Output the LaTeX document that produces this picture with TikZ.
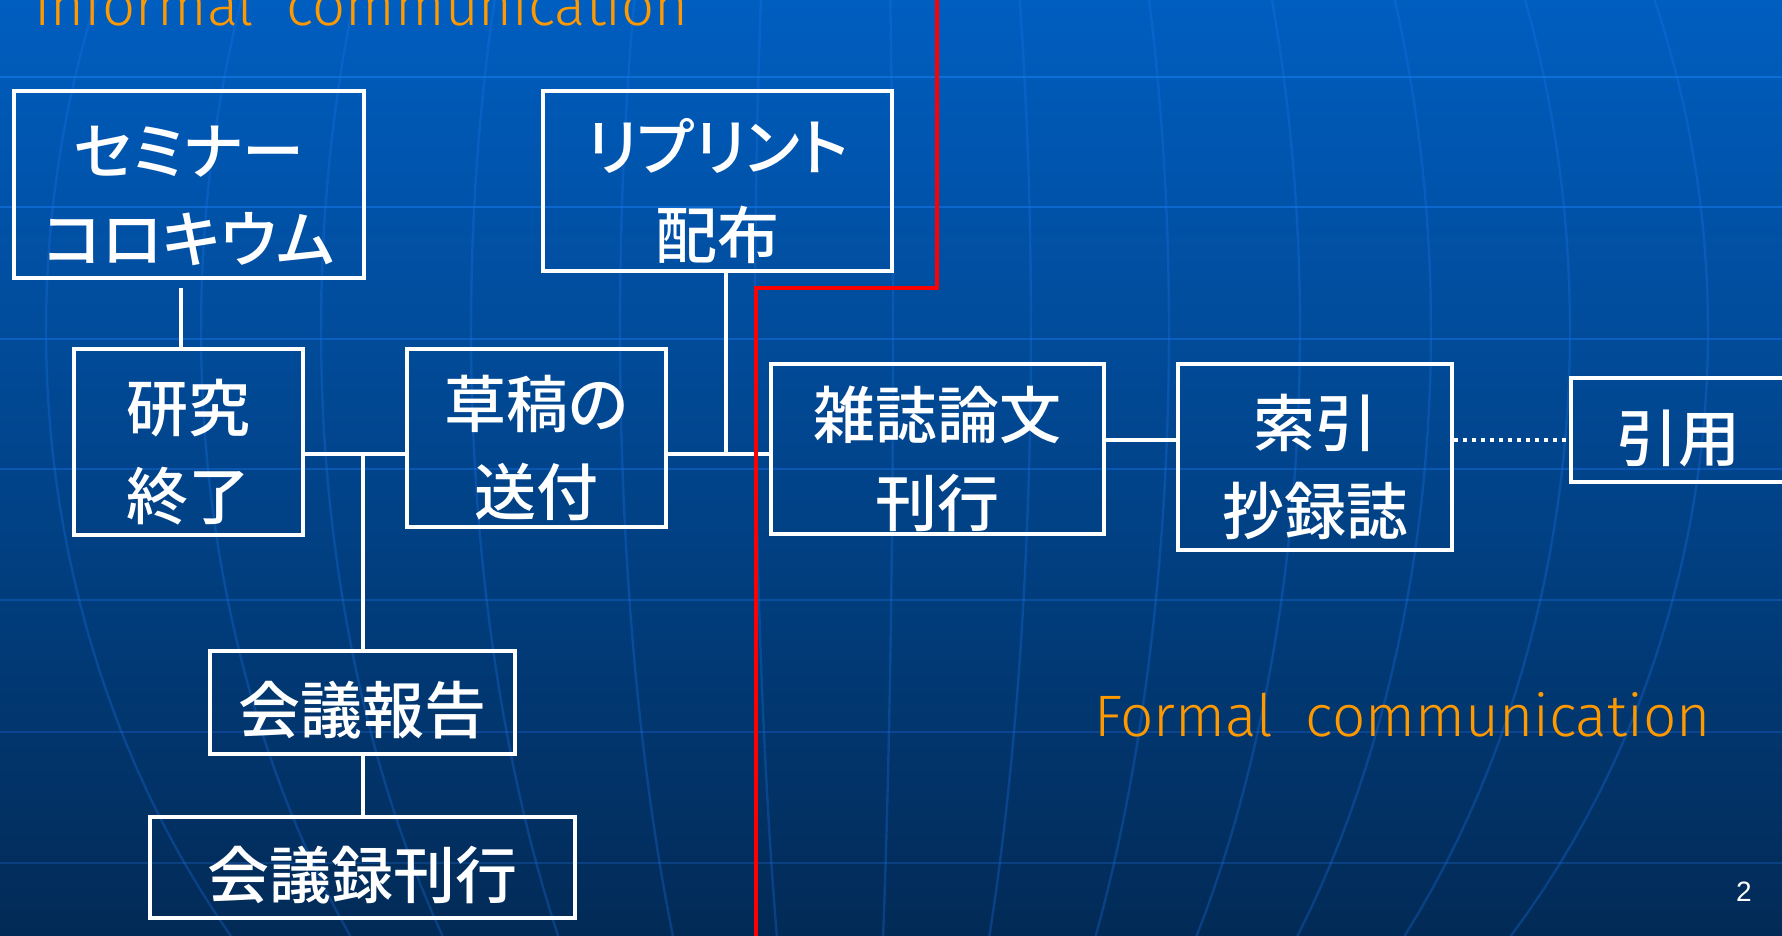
\documentclass[tikz,border=0pt]{standalone}
\usepackage{fontspec}
\newfontfamily\jp[RawFeature=+palt]{Noto Sans CJK JP Medium}
\newfontfamily\lat{Fira Sans Light}
\newfontfamily\numf{Liberation Sans}
\newcommand\onestrut{\rule{0pt}{34pt}}
\newcommand\twostrut{\rule{0pt}{36pt}}
\definecolor{bgtop}{RGB}{0,94,192}
\definecolor{bgmid}{RGB}{0,70,142}
\definecolor{bgbot}{RGB}{2,42,86}
\definecolor{g1}{RGB}{14,110,215}
\definecolor{g2}{RGB}{12,103,206}
\definecolor{g3}{RGB}{10,95,192}
\definecolor{g4}{RGB}{10,86,176}
\definecolor{g5}{RGB}{10,78,158}
\definecolor{g6}{RGB}{10,70,143}
\definecolor{g7}{RGB}{10,63,128}
\definecolor{merc}{RGB}{30,120,240}
\definecolor{orng}{RGB}{255,153,0}
\definecolor{redl}{RGB}{255,0,0}
\begin{document}
\begin{tikzpicture}[x=0.5pt,y=-0.5pt,
  box/.style={draw=white, line width=2pt, inner sep=0pt, align=center, text=white,
    font=\jp\fontsize{31}{44}\selectfont},
  conn/.style={draw=white, line width=1.6pt},
  dotconn/.style={draw=white, line width=2pt, dash pattern=on 2pt off 2.5pt},
  mer/.style={draw=merc, draw opacity=0.28, line width=1.2pt},
  gridl/.style={line width=1.3pt},
  redline/.style={draw=redl, line width=1.8pt},
  ttl/.style={text=orng, inner sep=0pt, anchor=base west}]
\useasboundingbox (0,0) rectangle (1782,936);
% background
\shade[top color=bgtop, middle color=bgmid, bottom color=bgbot] (0,0) rectangle (1782,936);
\foreach \yy/\cc in {77/g1,207/g2,339/g3,469/g4,600/g5,732/g6,863/g7}
  \draw[gridl, draw=\cc] (0,\yy) -- (1782,\yy);
\foreach \d in {-804,-649,-529,-379,-230,-95,43,181,319,450,581,720,858}
  \draw[mer] plot[domain=0:936, samples=40, variable=\t] ({850+(\d)*sqrt(1-((\t-330)/950)^2)}, \t);
% titles
\node[ttl] (inf) at (34,26) {\resizebox{327pt}{!}{\lat Informal\ \ communication}};
\node[ttl] (frm) at (1094,736) {\resizebox{308pt}{!}{\lat Formal\ \ communication}};
\node[text=white, inner sep=0pt, font=\numf\fontsize{14}{16}\selectfont] (pg) at (1744,892) {2};
% boxes
\node[box, minimum width=175pt, minimum height=93.5pt] (seminar) at (189,184.5) {\twostrut セミナー\\コロキウム};
\node[box, minimum width=174.5pt, minimum height=90pt] (reprint) at (717.5,181) {\twostrut リプリント\\配布};
\node[box, minimum width=114.5pt, minimum height=93pt] (kenkyu) at (188.5,442) {\twostrut 研究\\終了};
\node[box, minimum width=129.5pt, minimum height=89pt] (soko) at (536.5,438) {\twostrut 草稿の\\送付};
\node[box, minimum width=166.5pt, minimum height=85pt] (zasshi) at (937.5,449) {\twostrut 雑誌論文\\刊行};
\node[box, minimum width=137pt, minimum height=93pt] (sakuin) at (1315,457) {\twostrut 索引\\抄録誌};
\node[box, minimum width=107.5pt, minimum height=52pt] (inyo) at (1678.5,430) {\onestrut 引用};
\node[box, minimum width=152.5pt, minimum height=51.5pt] (kaigi) at (362.5,702.5) {\onestrut 会議報告};
\node[box, minimum width=212.5pt, minimum height=50.5pt] (kaigiroku) at (362.5,867.5) {\onestrut 会議録刊行};
% connector levels
\coordinate (lvA) at (0,454);
\coordinate (lvB) at (0,440);
\coordinate (semtop) at (181,288);
\coordinate (jL) at (363,454);
\coordinate (jR) at (726,454);
% connectors
\draw[conn] (semtop) -- (semtop |- kenkyu.north);
\draw[conn] (kenkyu.east |- lvA) -- (soko.west |- lvA);
\draw[conn] (jL) -- (jL |- kaigi.north);
\draw[conn] (kaigi.south -| jL) -- (kaigiroku.north -| jL);
\draw[conn] (soko.east |- lvA) -- (zasshi.west |- lvA);
\draw[conn] (reprint.south -| jR) -- (jR);
\draw[conn] (zasshi.east |- lvB) -- (sakuin.west |- lvB);
\draw[dotconn] (sakuin.east |- lvB) -- (inyo.west |- lvB);
% red boundary
\coordinate (rTop) at (937,0);
\coordinate (rBot) at (756,936);
\draw[redline] (rTop) -- (937,288) -- (756,288) -- (rBot);
\end{tikzpicture}
\end{document}
